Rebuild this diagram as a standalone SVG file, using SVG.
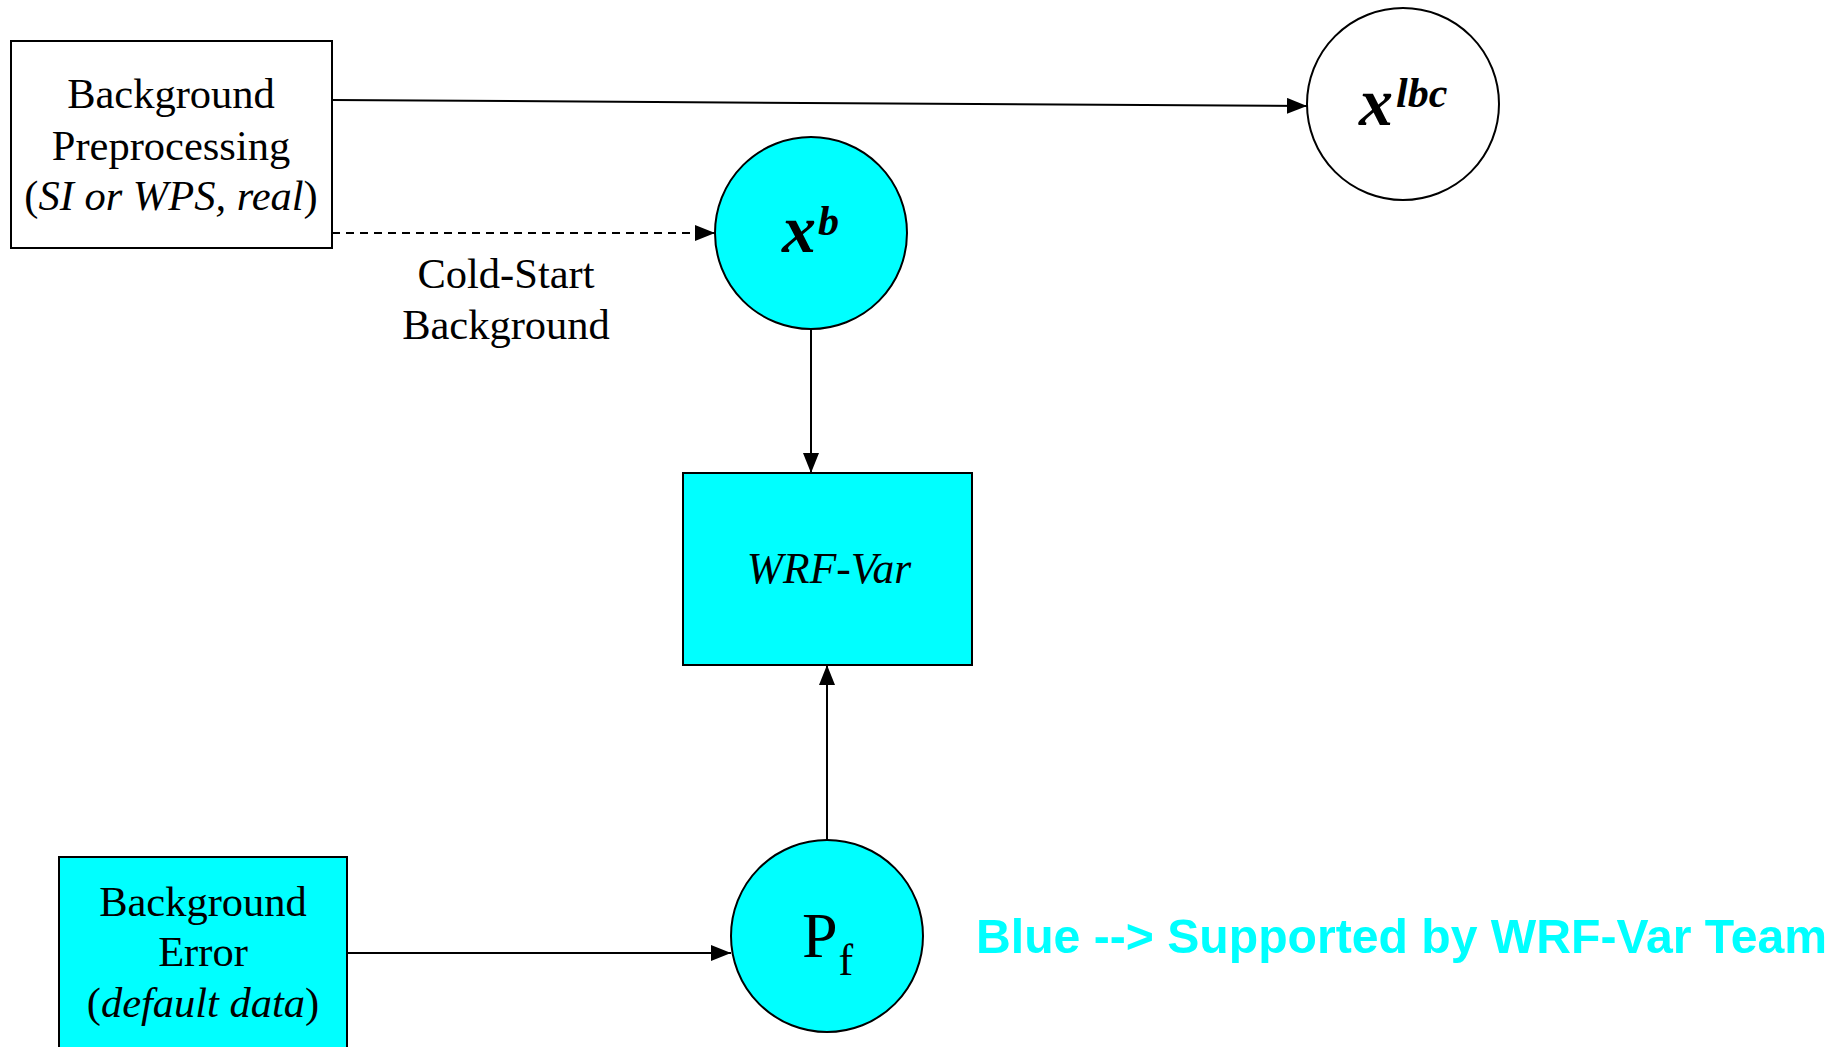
<svg xmlns="http://www.w3.org/2000/svg" width="1848" height="1047" viewBox="0 0 1848 1047">
<defs>
<style>
.box{stroke:#000;stroke-width:2;}
.cyan{fill:#00FFFF;}
.white{fill:#FFFFFF;}
.t{font-family:"Liberation Serif","Times New Roman",serif;fill:#000;}
.n{font-size:42.5px;}
.it{font-style:italic;}
.bi{font-family:"Liberation Serif","Times New Roman",serif;font-style:italic;font-weight:bold;fill:#000;}
.conn{stroke:#000;stroke-width:2;fill:none;}
.dash{stroke-dasharray:8 6;}
.legend{font-family:"Liberation Sans",Arial,sans-serif;font-weight:bold;font-size:48px;fill:#00FFFF;}
</style>
<marker id="arrL" viewBox="0 0 20 16" refX="20" refY="8" markerWidth="20" markerHeight="16" markerUnits="userSpaceOnUse" orient="auto">
<path d="M0,0 L20,8 L0,16 z" fill="#000"/>
</marker>
</defs>
<rect width="1848" height="1047" fill="#FFFFFF"/>

<g id="connectors">
<line class="conn" x1="332" y1="100" x2="1307" y2="106" marker-end="url(#arrL)"/>
<line class="conn dash" x1="332" y1="233" x2="715" y2="233" marker-end="url(#arrL)"/>
<line class="conn" x1="811" y1="330" x2="811" y2="473" marker-end="url(#arrL)"/>
<line class="conn" x1="827" y1="841" x2="827" y2="665" marker-end="url(#arrL)"/>
<line class="conn" x1="347" y1="953" x2="731" y2="953" marker-end="url(#arrL)"/>
<text class="t n" x="506" y="288" text-anchor="middle">Cold-Start</text>
<text class="t n" x="506" y="339" text-anchor="middle">Background</text>
</g>

<g id="bg-preprocessing">
<rect class="box white" x="11" y="41" width="321" height="207"/>
<text class="t n" x="171" y="108" text-anchor="middle">Background</text>
<text class="t n" x="171" y="160" text-anchor="middle">Preprocessing</text>
<text class="t n" x="171" y="210" text-anchor="middle">(<tspan class="it">SI or WPS, real</tspan>)</text>
</g>

<g id="xlbc">
<circle class="box white" cx="1403" cy="104" r="96"/>
<text class="bi" x="1359" y="125" style="font-size:68px">x<tspan style="font-size:42px" dx="3" dy="-18">lbc</tspan></text>
</g>

<g id="xb">
<circle class="box cyan" cx="811" cy="233" r="96"/>
<text class="bi" x="782" y="252" style="font-size:68px">x<tspan style="font-size:42px" dx="2" dy="-17">b</tspan></text>
</g>

<g id="wrfvar">
<rect class="box cyan" x="683" y="473" width="289" height="192"/>
<text class="t it" x="829" y="583" text-anchor="middle" style="font-size:43.5px">WRF-Var</text>
</g>

<g id="pf">
<circle class="box cyan" cx="827" cy="936" r="96"/>
<text class="t" x="802" y="957" style="font-size:64px">P<tspan style="font-size:44px" dx="1" dy="18">f</tspan></text>
</g>

<g id="bg-error">
<rect class="box cyan" x="59" y="857" width="288" height="200"/>
<text class="t n" x="203" y="916" text-anchor="middle">Background</text>
<text class="t n" x="203" y="966" text-anchor="middle">Error</text>
<text class="t n" x="203" y="1017" text-anchor="middle">(<tspan class="it">default data</tspan>)</text>
</g>

<g id="legend">
<text class="legend" x="976" y="953" textLength="851" lengthAdjust="spacingAndGlyphs">Blue --&gt; Supported by WRF-Var Team</text>
</g>
</svg>
